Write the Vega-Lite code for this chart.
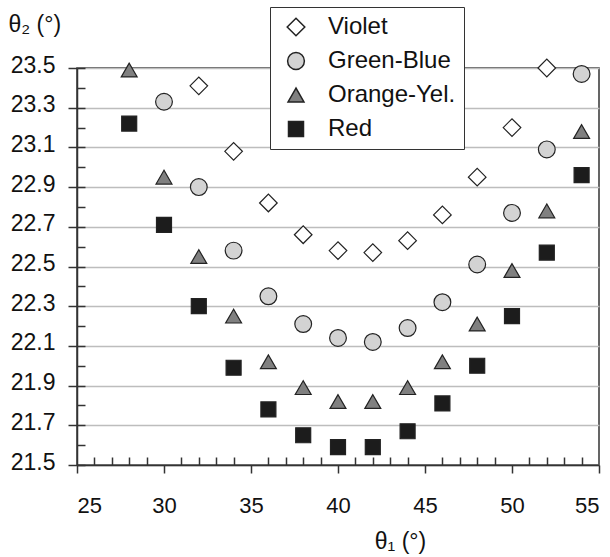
{
  "$schema": "https://vega.github.io/schema/vega-lite/v6.json",
  "width": 522,
  "height": 397,
  "autosize": {"type": "none"},
  "padding": {"left": 77, "top": 68, "right": 11, "bottom": 92},
  "background": "white",
  "config": {
    "font": "Liberation Sans",
    "view": {"stroke": "#333", "strokeWidth": 1.5},
    "axis": {"labelColor": "#111", "titleColor": "#111", "domainColor": "#333", "domainWidth": 1.5, "tickColor": "#333", "tickWidth": 1.5, "labelFont": "Liberation Sans", "titleFont": "Liberation Sans", "titleFontWeight": "normal"},
    "legend": {"labelFont": "Liberation Sans"}
  },
  "data": {"values": [
    {"series": "Violet", "theta1": 32, "theta2": 23.41},
    {"series": "Violet", "theta1": 34, "theta2": 23.08},
    {"series": "Violet", "theta1": 36, "theta2": 22.82},
    {"series": "Violet", "theta1": 38, "theta2": 22.66},
    {"series": "Violet", "theta1": 40, "theta2": 22.58},
    {"series": "Violet", "theta1": 42, "theta2": 22.57},
    {"series": "Violet", "theta1": 44, "theta2": 22.63},
    {"series": "Violet", "theta1": 46, "theta2": 22.76},
    {"series": "Violet", "theta1": 48, "theta2": 22.95},
    {"series": "Violet", "theta1": 50, "theta2": 23.20},
    {"series": "Violet", "theta1": 52, "theta2": 23.50},
    {"series": "Green-Blue", "theta1": 30, "theta2": 23.33},
    {"series": "Green-Blue", "theta1": 32, "theta2": 22.90},
    {"series": "Green-Blue", "theta1": 34, "theta2": 22.58},
    {"series": "Green-Blue", "theta1": 36, "theta2": 22.35},
    {"series": "Green-Blue", "theta1": 38, "theta2": 22.21},
    {"series": "Green-Blue", "theta1": 40, "theta2": 22.14},
    {"series": "Green-Blue", "theta1": 42, "theta2": 22.12},
    {"series": "Green-Blue", "theta1": 44, "theta2": 22.19},
    {"series": "Green-Blue", "theta1": 46, "theta2": 22.32},
    {"series": "Green-Blue", "theta1": 48, "theta2": 22.51},
    {"series": "Green-Blue", "theta1": 50, "theta2": 22.77},
    {"series": "Green-Blue", "theta1": 52, "theta2": 23.09},
    {"series": "Green-Blue", "theta1": 54, "theta2": 23.47},
    {"series": "Orange-Yel.", "theta1": 28, "theta2": 23.49},
    {"series": "Orange-Yel.", "theta1": 30, "theta2": 22.95},
    {"series": "Orange-Yel.", "theta1": 32, "theta2": 22.55},
    {"series": "Orange-Yel.", "theta1": 34, "theta2": 22.25},
    {"series": "Orange-Yel.", "theta1": 36, "theta2": 22.02},
    {"series": "Orange-Yel.", "theta1": 38, "theta2": 21.89},
    {"series": "Orange-Yel.", "theta1": 40, "theta2": 21.82},
    {"series": "Orange-Yel.", "theta1": 42, "theta2": 21.82},
    {"series": "Orange-Yel.", "theta1": 44, "theta2": 21.89},
    {"series": "Orange-Yel.", "theta1": 46, "theta2": 22.02},
    {"series": "Orange-Yel.", "theta1": 48, "theta2": 22.21},
    {"series": "Orange-Yel.", "theta1": 50, "theta2": 22.48},
    {"series": "Orange-Yel.", "theta1": 52, "theta2": 22.78},
    {"series": "Orange-Yel.", "theta1": 54, "theta2": 23.18},
    {"series": "Red", "theta1": 28, "theta2": 23.22},
    {"series": "Red", "theta1": 30, "theta2": 22.71},
    {"series": "Red", "theta1": 32, "theta2": 22.30},
    {"series": "Red", "theta1": 34, "theta2": 21.99},
    {"series": "Red", "theta1": 36, "theta2": 21.78},
    {"series": "Red", "theta1": 38, "theta2": 21.65},
    {"series": "Red", "theta1": 40, "theta2": 21.59},
    {"series": "Red", "theta1": 42, "theta2": 21.59},
    {"series": "Red", "theta1": 44, "theta2": 21.67},
    {"series": "Red", "theta1": 46, "theta2": 21.81},
    {"series": "Red", "theta1": 48, "theta2": 22.00},
    {"series": "Red", "theta1": 50, "theta2": 22.25},
    {"series": "Red", "theta1": 52, "theta2": 22.57},
    {"series": "Red", "theta1": 54, "theta2": 22.96}
  ]},
  "layer": [
    {
      "mark": {"type": "point", "opacity": 0},
      "encoding": {
        "x": {"field": "theta1", "type": "quantitative", "scale": {"domain": [25, 55], "nice": false, "zero": false},
          "axis": {"orient": "bottom", "title": null, "labels": false, "grid": false, "domain": false, "tickSize": -8,
            "values": [26,27,28,29,31,32,33,34,36,37,38,39,41,42,43,44,46,47,48,49,51,52,53,54]}},
        "y": {"field": "theta2", "type": "quantitative", "scale": {"domain": [21.5, 23.5], "nice": false, "zero": false},
          "axis": {"orient": "left", "title": null, "labels": false, "grid": false, "domain": false, "tickSize": -8,
            "values": [21.5,21.6,21.7,21.8,21.9,22.0,22.1,22.2,22.3,22.4,22.5,22.6,22.7,22.8,22.9,23.0,23.1,23.2,23.3,23.4,23.5]}}
      }
    },
    {
      "mark": {"type": "point", "filled": true, "opacity": 1, "stroke": "#222", "strokeWidth": 1.2},
      "encoding": {
        "x": {"field": "theta1", "type": "quantitative", "scale": {"domain": [25, 55], "nice": false, "zero": false},
          "axis": {"orient": "bottom", "title": "θ₁ (°)", "grid": false, "tickSize": 8, "values": [25,30,35,40,45,50,55],
            "labelFontSize": 22, "labelPadding": 22, "titleFontSize": 23, "titleX": 323, "titleY": 83, "titleBaseline": "alphabetic", "titleAlign": "center"}},
        "y": {"field": "theta2", "type": "quantitative", "scale": {"domain": [21.5, 23.5], "nice": false, "zero": false},
          "axis": {"orient": "left", "title": "θ₂ (°)", "grid": true, "gridColor": "#bdbdbd", "gridWidth": 1.5, "tickSize": 9,
            "values": [21.5,21.7,21.9,22.1,22.3,22.5,22.7,22.9,23.1,23.3,23.5], "format": ".1f",
            "labelFontSize": 23, "labelPadding": 13, "labelOffset": -3, "titleFontSize": 23, "titleAngle": 0, "titleX": -69, "titleY": -37, "titleAlign": "left", "titleBaseline": "alphabetic"}},
        "shape": {"field": "series", "type": "nominal",
          "scale": {"domain": ["Violet", "Green-Blue", "Orange-Yel.", "Red"], "range": ["diamond", "circle", "triangle-up", "square"]},
          "legend": {"title": null, "orient": "none", "legendX": 193, "legendY": -61, "labelFontSize": 24, "labelColor": "#111",
            "strokeColor": "#333", "fillColor": "white", "padding": 8, "rowPadding": 10, "symbolOffset": 6, "labelOffset": 20}},
        "fill": {"field": "series", "type": "nominal",
          "scale": {"domain": ["Violet", "Green-Blue", "Orange-Yel.", "Red"], "range": ["#ffffff", "#d3d3d3", "#808080", "#1c1c1c"]}},
        "size": {"field": "series", "type": "nominal",
          "scale": {"domain": ["Violet", "Green-Blue", "Orange-Yel.", "Red"], "range": [310, 225, 280, 245]}}
      }
    }
  ],
  "resolve": {"axis": {"x": "independent", "y": "independent"}}
}
